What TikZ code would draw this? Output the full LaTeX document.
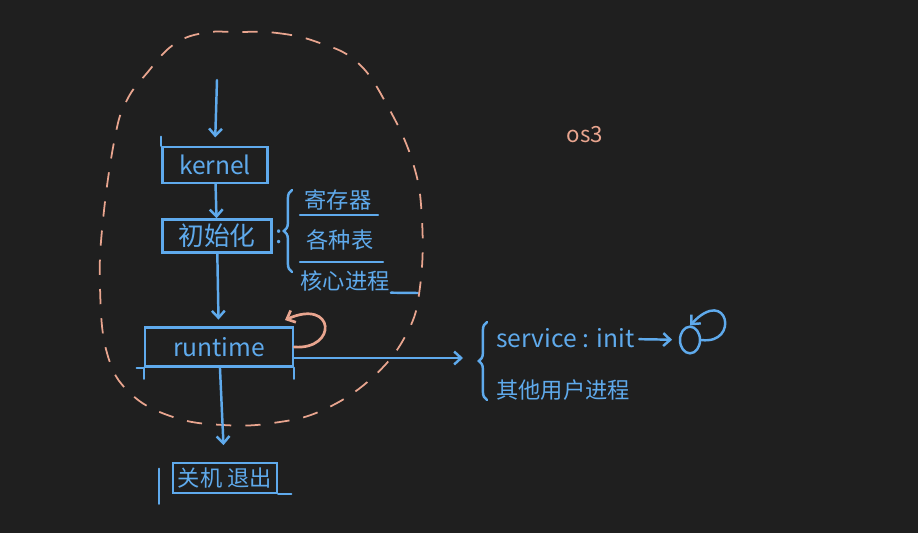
\documentclass[tikz,border=0pt]{standalone}
\usepackage{fontspec}
\newfontfamily\cjk{Noto Sans CJK SC}
\usetikzlibrary{positioning}
\usetikzlibrary{arrows.meta,decorations.pathreplacing,shapes.geometric}

\definecolor{board}{HTML}{1F1F1F}
\definecolor{ink}{HTML}{5FAAEC}
\definecolor{chalk}{HTML}{E9A58F}

\tikzset{
pen/.style={draw=ink,line width=2.1pt,line cap=round},
boxed/.style={pen,rectangle,text=ink,font=\cjk\fontsize{21}{25}\selectfont,inner sep=0pt},
lbl/.style={text=ink,font=\cjk\fontsize{19}{23}\selectfont,inner sep=1pt},
flow/.style={pen,-{Straight Barb[length=6pt,width=11pt]}},
loopy/.style={draw=chalk,line width=2.3pt,line cap=round,-{Straight Barb[length=6pt,width=11pt]}},
}

\begin{document}
\begin{tikzpicture}[x=0.03cm,y=-0.03cm]
\useasboundingbox[fill=board] (0,0) rectangle (918,533);

% left column
\coordinate (start) at (217,80);
\node[boxed,minimum width=3.15cm,minimum height=1.08cm](kernel) at (215,165){kernel};
\node[boxed,minimum width=3.27cm,minimum height=0.99cm,font=\cjk\fontsize{22}{26}\selectfont](init) at (217,236){初始化};
\node[lbl,font=\cjk\fontsize{22}{26}\selectfont](colon) at (279,237){:};
\node[boxed,minimum width=4.44cm,minimum height=1.17cm](runtime) at (219,347){runtime};
\node[boxed,minimum width=3.12cm,minimum height=0.9cm,font=\cjk\fontsize{19}{22}\selectfont](quit) at (225,478){关机\ 退出};

% rough corners
\draw[pen] (kernel.north west) -- ++(0,-9);
\draw[pen] (runtime.south west) -- ++(0,11);
\draw[pen] (runtime.south west) -- ++(-7,0);
\draw[pen] (runtime.south east) -- ++(0,11);
\draw[pen] (quit.north west) ++(-13,7) -- ++(0,35);
\draw[pen] (quit.south east) -- ++(13,0);

% what init sets up
\draw[pen,decorate,decoration={brace,amplitude=7pt}] (292,272) -- (292,190);
\node[lbl](regs) at (338,200){寄存器};
\node[lbl](tabs) at (340,240){各种表};
\node[lbl](procs) at (345,281){核心进程};
\draw[pen] (300,215) -- (378,215);
\draw[pen] (300,262) -- (383,262);
\draw[pen] (procs.south east) -- (418,293);

% user side
\coordinate (usr) at (463,358);
\draw[pen,decorate,decoration={brace,amplitude=7pt}] (487,400) -- (487,322);
\node[lbl,anchor=west,font=\cjk\fontsize{21}{24}\selectfont](svc) at (495,338){service : init};
\node[pen,ellipse,minimum width=0.6cm,minimum height=0.8cm,inner sep=0pt](circ) at (690,340){};
\node[lbl,anchor=west](other) at (495,390){其他用户进程};

\node[text=chalk,font=\cjk\fontsize{19}{22}\selectfont](os) at (585,135){os3};

% dashed kernel region
\draw[chalk,line width=1.5pt,dash pattern=on 13pt off 12pt]
plot[smooth cycle,tension=0.7] coordinates {(237,32) (277,33) (317,42) (357,62) (387,105) (413,163) (422,220) (420,287) (407,333) (373,377) (323,410) (273,423) (223,425) (173,417) (130,393) (107,353) (100,287) (103,220) (115,137) (127,100) (147,73) (173,45) (203,33)};

\coordinate (rtback) at (285,320);

\path
(start) edge[flow,shorten >=0.25cm] (kernel.north)
(kernel) edge[flow] (init)
(init) edge[flow,shorten >=0.2cm] (runtime)
(runtime) edge[flow,shorten >=0.5cm] (quit)
(runtime.east |- usr) edge[flow] (usr)
(svc) edge[flow,shorten <=0.1cm,shorten >=0.2cm] (circ);

\draw[loopy] (runtime.east) .. controls (338,350) and (335,298) .. (rtback);
\draw[flow] (circ.east) .. controls (740,345) and (728,285) .. (circ.north);
\end{tikzpicture}
\end{document}
